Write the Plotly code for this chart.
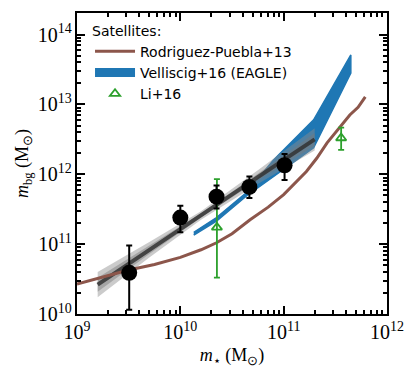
import numpy as np
import plotly.graph_objects as go

# black data points (this work)
pts_x = [3.2e9, 1.0e10, 2.24e10, 4.66e10, 1.02e11]
pts_logy = [10.59, 11.38, 11.68, 11.82, 12.13]
pts_logy_hi = [10.98, 11.55, 11.84, 11.97, 12.29]
pts_logy_lo = [10.06, 11.17, 11.51, 11.66, 11.92]

# Li+16 satellites
li_x = [2.26e10, 3.6e11]
li_logy = [11.24, 12.52]
li_logy_hi = [11.93, 12.67]
li_logy_lo = [10.52, 12.35]

# Rodriguez-Puebla+13
rp_logx = [9.0, 9.25, 9.5, 9.75, 10.0, 10.2, 10.35, 10.5, 10.675, 10.85, 11.0, 11.22, 11.32, 11.42, 11.51, 11.58, 11.64, 11.72, 11.79]
rp_logy = [10.43, 10.53, 10.63, 10.71, 10.81, 10.92, 11.02, 11.15, 11.35, 11.53, 11.71, 12.04, 12.23, 12.45, 12.62, 12.74, 12.85, 12.96, 13.11]

# Velliscig+16 (EAGLE) band
vel_logx = [10.13, 10.35, 10.64, 10.90, 10.98, 11.29, 11.65]
vel_lo = [11.13, 11.33, 11.69, 11.97, 12.05, 12.38, 13.45]
vel_hi = [11.17, 11.38, 11.74, 12.20, 12.33, 12.78, 13.71]

# fit line with bands
fit_logx = [9.2, 9.7, 10.2, 10.75, 11.3]
fit_logy = [10.42, 10.92, 11.41, 11.96, 12.50]
fit_outer = [0.18, 0.11, 0.06, 0.10, 0.16]
fit_inner = [0.10, 0.06, 0.03, 0.05, 0.09]

BROWN = "#8c564b"
BLUE = "#1f77b4"
GREEN = "#2ca02c"


def band(xs, lo, hi):
    bx = [10 ** v for v in xs] + [10 ** v for v in xs[::-1]]
    by = [10 ** v for v in lo] + [10 ** v for v in hi[::-1]]
    return bx, by


fig = go.Figure()

# Velliscig band
bx, by = band(vel_logx, vel_lo, vel_hi)
fig.add_trace(go.Scatter(x=bx, y=by, fill="toself", fillcolor=BLUE, mode="lines",
                         line=dict(color=BLUE, width=1.5), showlegend=False, hoverinfo="skip"))

# gray bands + fit line
lo = [y - d for y, d in zip(fit_logy, fit_outer)]
hi = [y + d for y, d in zip(fit_logy, fit_outer)]
bx, by = band(fit_logx, lo, hi)
fig.add_trace(go.Scatter(x=bx, y=by, fill="toself", fillcolor="rgba(140,140,140,0.45)",
                         mode="none", showlegend=False, hoverinfo="skip"))
lo = [y - d for y, d in zip(fit_logy, fit_inner)]
hi = [y + d for y, d in zip(fit_logy, fit_inner)]
bx, by = band(fit_logx, lo, hi)
fig.add_trace(go.Scatter(x=bx, y=by, fill="toself", fillcolor="rgba(120,120,120,0.45)",
                         mode="none", showlegend=False, hoverinfo="skip"))
fig.add_trace(go.Scatter(x=[10 ** v for v in fit_logx], y=[10 ** v for v in fit_logy],
                         mode="lines", line=dict(color="rgba(50,50,50,0.85)", width=4),
                         showlegend=False, hoverinfo="skip"))

# Rodriguez-Puebla line
fig.add_trace(go.Scatter(x=[10 ** v for v in rp_logx], y=[10 ** v for v in rp_logy],
                         mode="lines", line=dict(color=BROWN, width=3),
                         name="Rodriguez-Puebla+13"))

# legend-only entry for the band
fig.add_trace(go.Scatter(x=[None], y=[None], mode="lines", line=dict(color=BLUE, width=9),
                         name="Velliscig+16 (EAGLE)"))

# Li+16
ly = [10 ** v for v in li_logy]
fig.add_trace(go.Scatter(
    x=li_x, y=ly, mode="markers", name="Li+16",
    marker=dict(symbol="triangle-up-open", size=9, color=GREEN, line=dict(width=1.8, color=GREEN)),
    error_y=dict(type="data", symmetric=False,
                 array=[10 ** h - y for h, y in zip(li_logy_hi, ly)],
                 arrayminus=[y - 10 ** l for l, y in zip(li_logy_lo, ly)],
                 color=GREEN, thickness=1.8, width=3)))

# black points
py = [10 ** v for v in pts_logy]
fig.add_trace(go.Scatter(
    x=pts_x, y=py, mode="markers", showlegend=False,
    marker=dict(symbol="circle", size=16, color="black"),
    error_y=dict(type="data", symmetric=False,
                 array=[10 ** h - y for h, y in zip(pts_logy_hi, py)],
                 arrayminus=[y - 10 ** l for l, y in zip(pts_logy_lo, py)],
                 color="black", thickness=2, width=3)))

axis_common = dict(
    type="log", dtick=1, exponentformat="power", showgrid=False, zeroline=False,
    showline=True, linecolor="black", linewidth=2, mirror="ticks",
    ticks="inside", ticklen=8, tickwidth=2, tickcolor="black",
    minor=dict(ticks="inside", ticklen=4, tickwidth=1.5, tickcolor="black", showgrid=False),
    tickfont=dict(family="Liberation Serif", size=16, color="black"),
)

fig.update_xaxes(**axis_common, range=[9, 12],
                 title=dict(text="<i>m</i><sub>⋆</sub> (M<sub>⊙</sub>)",
                            font=dict(family="Liberation Serif", size=18, color="black"), standoff=6))
fig.update_yaxes(**axis_common, range=[10, 14.31],
                 title=dict(text="<i>m</i><sub>bg</sub> (M<sub>⊙</sub>)",
                            font=dict(family="Liberation Serif", size=18, color="black"), standoff=4))

# the page body adds an 8px margin all round, so the figure is drawn 16px smaller
fig.update_layout(
    width=399, height=362,
    margin=dict(l=69, r=20, t=3, b=56),
    paper_bgcolor="white", plot_bgcolor="white",
    legend=dict(x=0.042, y=0.985, xanchor="left", yanchor="top", bgcolor="rgba(0,0,0,0)",
                title=dict(text="Satellites:", font=dict(family="DejaVu Sans", size=14, color="black")),
                font=dict(family="DejaVu Sans", size=14, color="black"),
                tracegroupgap=0, itemwidth=40),
)

fig.write_html("out.html")
